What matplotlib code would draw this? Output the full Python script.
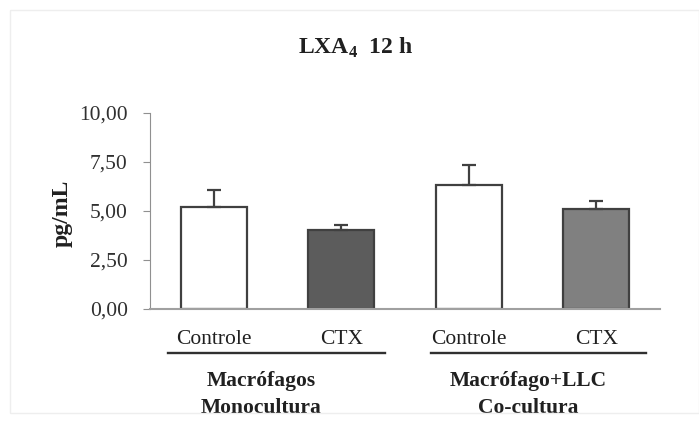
import matplotlib.pyplot as plt
import matplotlib.patches as patches
import numpy as np

# LXA4 at 12 h, mean + error (pg/mL)
conditions = ['Controle', 'CTX', 'Controle', 'CTX']
group_names = [('Macrófagos', 'Monocultura'), ('Macrófago+LLC', 'Co-cultura')]
means = [5.22, 4.02, 6.35, 5.12]
errors = [0.85, 0.27, 1.0, 0.38]
yticks = [0.0, 2.5, 5.0, 7.5, 10.0]

plt.rcParams['font.family'] = ['Liberation Serif', 'DejaVu Serif']
plt.rcParams['mathtext.fontset'] = 'custom'
plt.rcParams['mathtext.bf'] = 'Liberation Serif:bold'
plt.rcParams['mathtext.rm'] = 'Liberation Serif'

W, H = 699, 422
fig = plt.figure(figsize=(W / 100, H / 100), dpi=100)
ax = fig.add_axes([150 / W, 1 - 309 / H, 510 / W, 196 / H])

# faint frame round the whole figure
fig.patches.append(patches.Rectangle((10 / W, 9 / H), 689 / W, 403 / H,
                                     transform=fig.transFigure, fill=False,
                                     edgecolor='#eeeeee', linewidth=1))

x = np.arange(len(means))
fills = ['white', '#5c5c5c', 'white', '#808080']
ax.bar(x, means, width=0.52, color=fills, edgecolor='#404040', linewidth=1.6, zorder=2)
ax.errorbar(x, means, yerr=[np.zeros(len(errors)), errors], fmt='none',
            ecolor='#404040', elinewidth=1.6, capsize=5, capthick=1.6, zorder=3)

ax.set_xlim(-0.5, 3.5)
ax.set_ylim(0, 10)
ax.set_yticks(yticks)
ax.set_yticklabels(['{:.2f}'.format(v).replace('.', ',') for v in yticks],
                   fontsize=15.5, color='#303030')
ax.tick_params(axis='y', direction='out', length=5, color='#909090', pad=11)
ax.set_xticks([])
for s in ['top', 'right']:
    ax.spines[s].set_visible(False)
ax.spines['left'].set_color('#909090')
ax.spines['bottom'].set_color('#a0a0a0')
ax.spines['bottom'].set_linewidth(1.5)

fig.text(62 / W, 1 - 213 / H, 'pg/mL', rotation=90, ha='center', va='center',
         fontsize=17, fontweight='bold', color='#202020')
fig.text(356 / W, 1 - 48 / H, r'LXA$_\mathbf{4}$  12 h', ha='center', va='center',
         fontsize=17, fontweight='bold', color='#202020')

# condition labels under each bar
for xi, lab in zip(x, conditions):
    ax.text(xi, -1.58, lab, ha='center', va='center', fontsize=15.5, color='#202020')

# group underlines and names
line_spans = [(-0.36, 1.34), (1.70, 3.39)]
name_x = [0.375, 2.47]
for (x0, x1), cx, (top, bottom) in zip(line_spans, name_x, group_names):
    ax.plot([x0, x1], [-2.25, -2.25], color='#303030', linewidth=1.7, clip_on=False)
    ax.text(cx, -3.67, top, ha='center', va='center', fontsize=15.5,
            fontweight='bold', color='#202020')
    ax.text(cx, -5.05, bottom, ha='center', va='center', fontsize=15.5,
            fontweight='bold', color='#202020')

fig.savefig('out.png', dpi=100, facecolor='white')
